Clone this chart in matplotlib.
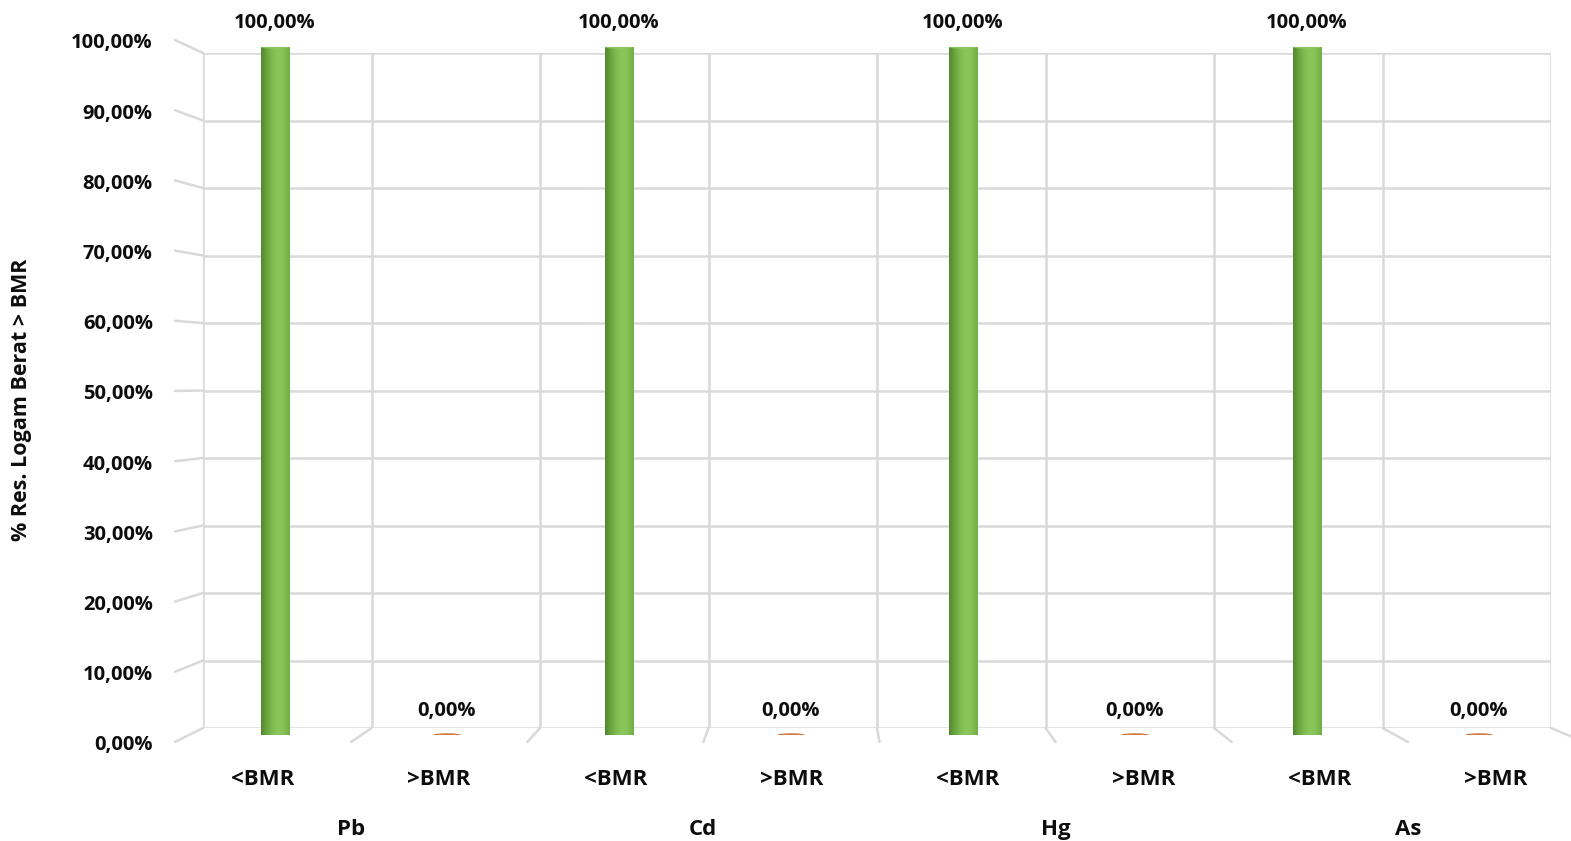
import numpy as np
import matplotlib.pyplot as plt
from matplotlib.patches import ConnectionPatch, Ellipse
from matplotlib.colors import LinearSegmentedColormap

# data
groups = ["Pb", "Cd", "Hg", "As"]
categories = ["<BMR", ">BMR"] * 4
values = [100.0, 0.0, 100.0, 0.0, 100.0, 0.0, 100.0, 0.0]
yticks = [0, 10, 20, 30, 40, 50, 60, 70, 80, 90, 100]

W, H = 1571, 841
FONT = "Open Sans"
GRID = "#d9d9d9"
TXT = "#0d0d0d"


def px_axes(fig, left, right, top, bottom):
    # pixel box (origin top-left) -> figure fractions
    return fig.add_axes([left / W, (H - bottom) / H, (right - left) / W, (bottom - top) / H])


def pct(v):
    return f"{v:.2f}%".replace(".", ",")


fig = plt.figure(figsize=(W / 100, H / 100), dpi=100)
fig.patch.set_facecolor("white")

# three planes of the 3D box: back wall, bar plane, front edge
back = px_axes(fig, 203, 1551, 53, 728)
mid = px_axes(fig, 189, 1565, 47, 735)
front = px_axes(fig, 175, 1584, 40, 742)
n = len(categories)
for ax in (back, mid, front):
    ax.set_xlim(-0.5, n - 0.5)
    ax.set_ylim(0, 100)
    ax.axis("off")
    ax.patch.set_alpha(0)

# back wall grid
edges = np.arange(n + 1) - 0.5
for y in yticks:
    back.plot([edges[0], edges[-1]], [y, y], color=GRID, lw=1.8, solid_capstyle="butt", zorder=1)
for x in edges:
    back.plot([x, x], [0, 100], color=GRID, lw=1.8, solid_capstyle="butt", zorder=1)

# side wall stubs (left) and floor stubs
for y in yticks:
    fig.add_artist(ConnectionPatch((edges[0], y), (edges[0], y), "data", "data",
                                   axesA=back, axesB=front, color=GRID, lw=1.8))
for x in edges[1:]:
    fig.add_artist(ConnectionPatch((x, 0), (x, 0), "data", "data",
                                   axesA=back, axesB=front, color=GRID, lw=1.8))

# cylinders
green = LinearSegmentedColormap.from_list(
    "cyl", ["#55882f", "#69a63f", "#7fbd51", "#8cc75c", "#84c155", "#70b047"])
grad = np.linspace(0, 1, 64).reshape(1, -1)
bw = 0.163
for i, v in enumerate(values):
    if v > 0:
        bars = mid.bar(i, v, width=bw, color="#70ad47", lw=0, zorder=3)
        im = mid.imshow(grad, cmap=green, aspect="auto", extent=(i - bw / 2, i + bw / 2, 0, v),
                        zorder=4, interpolation="bilinear")
        im.set_clip_path(bars[0])
        mid.add_patch(Ellipse((i, 0), bw, 0.6, color="#69a63f", lw=0, zorder=3))
        mid.add_patch(Ellipse((i, v), bw, 0.5, color="#8cc65e", lw=0, zorder=5))
    else:
        mid.add_patch(Ellipse((i, v), bw, 0.5, color="#d07a3e", lw=0, zorder=5))
    mid.annotate(pct(v), (i, v), xytext=(0, 17), textcoords="offset points",
                 ha="center", va="center", fontsize=14.5, fontweight="bold", family=FONT,
                 color=TXT, annotation_clip=False)

# axis texts on the front edge
for y in yticks:
    front.annotate(pct(y), (-0.5, y), xytext=(-16, -2.5), textcoords="offset points", ha="right",
                   va="center", fontsize=14.5, fontweight="bold", family=FONT, color=TXT,
                   annotation_clip=False)
for i, c in enumerate(categories):
    front.annotate(c, (i, 0), xytext=(0, -27), textcoords="offset points", ha="center", va="center",
                   fontsize=16, fontweight="bold", family=FONT, color=TXT, annotation_clip=False)
for g, name in enumerate(groups):
    front.annotate(name, (2 * g + 0.5, 0), xytext=(0, -63), textcoords="offset points", ha="center",
                   va="center", fontsize=16, fontweight="bold", family=FONT, color=TXT,
                   annotation_clip=False)

fig.text(22 / W, 1 - 400 / H, "% Res. Logam Berat > BMR", rotation=90, ha="center", va="center",
         fontsize=15.5, fontweight="bold", family=FONT, color=TXT)

fig.savefig("out.png", dpi=100, facecolor="white")
